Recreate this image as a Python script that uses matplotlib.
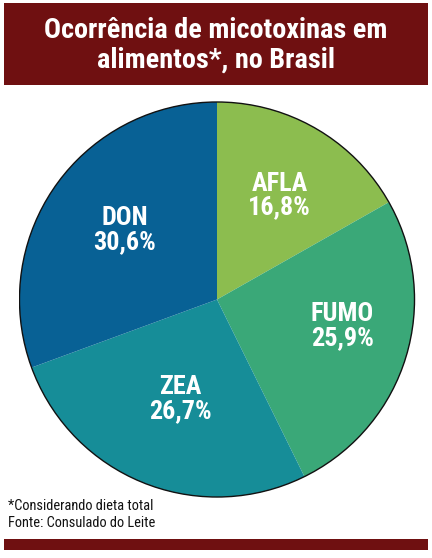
import matplotlib
matplotlib.use("Agg")
import matplotlib.pyplot as plt
from matplotlib import font_manager
from matplotlib.patches import Rectangle, Circle

names = {f.name for f in font_manager.fontManager.ttflist}
COND = "Roboto"
for cand in ["Roboto Condensed", "Liberation Sans Narrow", "Open Sans Condensed"]:
    if cand in names:
        COND = cand
        break
FAM = [COND, "DejaVu Sans"]

categories = ["AFLA", "FUMO", "ZEA", "DON"]
values = [16.8, 25.9, 26.7, 30.6]
value_labels = ["16,8%", "25,9%", "26,7%", "30,6%"]
colors = ["#8cbd4f", "#3aa878", "#168d98", "#086195"]
title_lines = ["Ocorrência de micotoxinas em", "alimentos*, no Brasil"]
note = "*Considerando dieta total"
source = "Fonte: Consulado do Leite"

W, H = 432, 558
fig = plt.figure(figsize=(W / 100, H / 100), dpi=100)
fig.patch.set_facecolor("white")
renderer = fig.canvas.get_renderer()


def fx(px):
    return px / W


def fy(py):
    return 1 - py / H


def fit(t, target_px, max_size):
    w = t.get_window_extent(renderer=renderer).width
    size = t.get_fontsize() * target_px / w
    t.set_fontsize(min(size, max_size))


# title banner
fig.patches.append(Rectangle((fx(4), fy(85)), fx(424), 82 / H, transform=fig.transFigure,
                             facecolor="#6f1011", edgecolor="none"))
t1 = fig.text(fx(216), fy(31), title_lines[0], ha="center", va="center", color="white",
              fontsize=20, fontweight="bold", family=FAM)
fit(t1, 342, 21)
t2 = fig.text(fx(216), fy(60), title_lines[1], ha="center", va="center", color="white",
              fontsize=t1.get_fontsize(), fontweight="bold", family=FAM)

# pie
cx, cy, r = 217, 299.5, 198.5
ax = fig.add_axes([fx(cx - r), fy(cy + r), 2 * r / W, 2 * r / H])
wedges, _ = ax.pie(values, colors=colors, startangle=90, counterclock=False, radius=1,
                   wedgeprops=dict(edgecolor="none", linewidth=0))
ax.add_patch(Circle((0, 0), 1, facecolor="none", edgecolor="#111111", linewidth=1.0))
ax.set_xlim(-1.005, 1.005)
ax.set_ylim(-1.005, 1.005)
ax.set_aspect("equal")
ax.axis("off")

label_px = [(280, 195), (343, 326), (180, 400), (124, 230)]
for (px, py), cat, lab in zip(label_px, categories, value_labels):
    t = ax.text((px - cx) / r, (cy - py) / r, f"{cat}\n{lab}", ha="center", va="center",
                color="white", fontsize=18, fontweight="bold", family=FAM, linespacing=1.0)
    if COND != "Roboto":
        fit(t, 63, 20)

n1 = fig.text(fx(8), fy(506), note, ha="left", va="center", color="#111111",
              fontsize=11, family=FAM)
fit(n1, 146, 12)
fig.text(fx(8), fy(523), source, ha="left", va="center", color="#111111",
         fontsize=n1.get_fontsize(), family=FAM)

fig.patches.append(Rectangle((fx(4), fy(550)), fx(424), 11 / H, transform=fig.transFigure,
                             facecolor="#6f1011", edgecolor="none"))

fig.savefig("out.png", dpi=100)
